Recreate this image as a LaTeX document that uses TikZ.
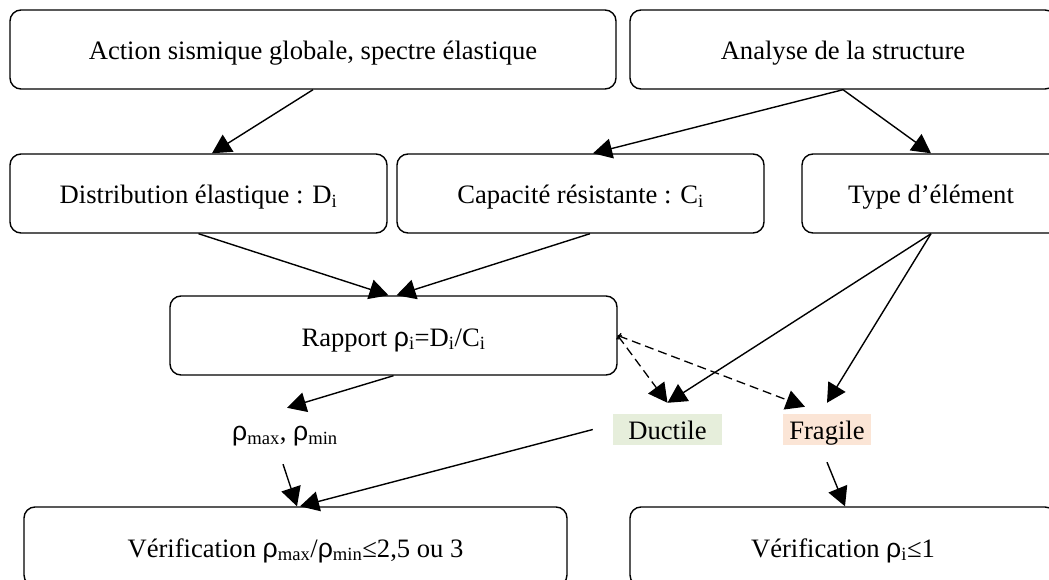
\documentclass[tikz,border=0pt]{standalone}
\usepackage{fontspec}
\setmainfont{Liberation Serif}
\newfontfamily\rhofont{Liberation Sans}
\usetikzlibrary{arrows.meta}
\newcommand{\rh}{{\rhofont ρ}}
\definecolor{ductfill}{HTML}{E6EEDB}
\definecolor{fragfill}{HTML}{FBE5D6}
\begin{document}
\begin{tikzpicture}[x=1pt,y=-1pt,
  box/.style={draw, line width=1.4pt, rounded corners=11pt, inner sep=0pt, minimum height=79pt, text height=26pt, text depth=5pt, font=\fontsize{26.6}{30}\selectfont},
  lbl/.style={inner sep=0pt, font=\fontsize{26.6}{30}\selectfont},
  tag/.style={lbl, text height=19pt, text depth=0pt, minimum height=31pt},
  arr/.style={line width=1.4pt, -{Triangle[length=19pt,width=20pt]}},
  darr/.style={line width=1.3pt, dash pattern=on 9pt off 5pt, {To[length=3pt,width=7pt]}-{Triangle[length=19pt,width=20pt]}}]
\useasboundingbox (0,0) rectangle (1049,580);
\node[box, minimum width=606pt] (act) at (313,49.5) {Action sismique globale, spectre élastique};
\node[box, minimum width=426pt] (ana) at (843,49.5) {Analyse de la structure};
\node[box, minimum width=377pt] (dist) at (198.5,193.5) {Distribution élastique : D\textsubscript{i}};
\node[box, minimum width=367pt] (cap) at (580.5,193.5) {Capacité résistante : C\textsubscript{i}};
\node[box, minimum width=258pt] (type) at (931,193.5) {Type d’élément};
\node[box, minimum width=447pt] (rap) at (393.5,335.5) {Rapport \rh\textsubscript{i}=D\textsubscript{i}/C\textsubscript{i}};
\node[lbl, minimum height=56pt] (pm) at (285,436) {\rh\textsubscript{max}, \rh\textsubscript{min}};
\node[tag, fill=ductfill, minimum width=109pt] (dd) at (667.5,429.5) {Ductile};
\node[tag, fill=fragfill, minimum width=88pt] (fr) at (827,429.5) {Fragile};
\node[box, minimum width=543pt] (ver1) at (295.5,546.5) {Vérification \rh\textsubscript{max}/\rh\textsubscript{min}≤2,5 ou 3};
\node[box, minimum width=426pt] (ver2) at (843,546.5) {Vérification \rh\textsubscript{i}≤1};
\draw[arr] (act.south) -- ([xshift=13.5pt]dist.north);
\draw[arr] (ana.south) -- ([xshift=12.5pt]cap.north);
\draw[arr] (ana.south) -- (type.north);
\draw[arr] (dist.south) -- ([xshift=-5pt]rap.north);
\draw[arr] ([xshift=9.5pt]cap.south) -- ([xshift=3pt]rap.north);
\draw[arr] (rap.south) -- ([xshift=2pt]pm.north);
\draw[arr] ([xshift=-2pt]pm.south) -- ([xshift=1.5pt]ver1.north);
\draw[arr] ([xshift=-20pt]dd.west) -- ([xshift=4.5pt]ver1.north);
\draw[arr] (type.south) -- ([yshift=11pt]dd.north);
\draw[arr] (type.south) -- ([yshift=11pt]fr.north);
\draw[darr] (rap.east) -- ([yshift=11pt]dd.north);
\draw[darr] (rap.east) -- ([xshift=-22pt,yshift=7pt]fr.north);
\draw[arr] ([yshift=-17pt]fr.south) -- ([xshift=2pt]ver2.north);
\end{tikzpicture}
\end{document}
